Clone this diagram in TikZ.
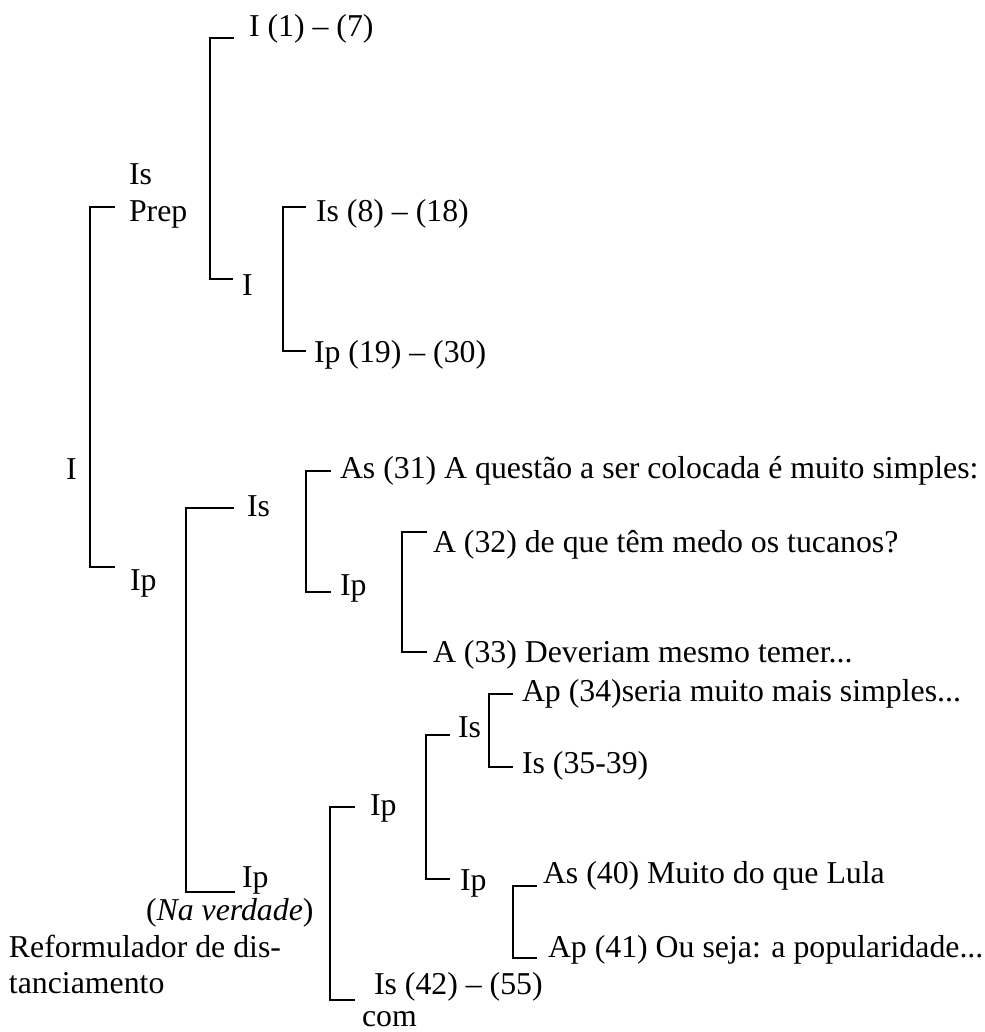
\documentclass[tikz,border=0pt]{standalone}
\usepackage{fontspec}
\setmainfont{Liberation Serif}
\begin{document}
\begin{tikzpicture}[x=1pt,y=-1pt,
  lbl/.style={anchor=base west,inner sep=0pt,outer sep=0pt,font=\fontsize{31.8}{38}\selectfont},
  br/.style={line width=1.9pt,line join=miter,line cap=butt}]
\useasboundingbox (0,0) rectangle (984,1032);
% labels
\node[lbl] (t17)  at (249,37)  {I (1) – (7)};
\node[lbl] (is1)  at (129,185) {Is};
\node[lbl] (prep) at (129,222) {Prep};
\node[lbl] (i2)   at (242,295) {I};
\node[lbl] (is818) at (316,222) {Is (8) – (18)};
\node[lbl] (ip1930) at (314,362) {Ip (19) – (30)};
\node[lbl] (root) at (66,479)  {I};
\node[lbl] (ip1)  at (130,590) {Ip};
\node[lbl] (is2)  at (247,516) {Is};
\node[lbl] (as31) at (340,478) {As (31) A questão a ser colocada é muito simples:};
\node[lbl] (ip2)  at (340,595) {Ip};
\node[lbl] (a32)  at (433,552) {A (32) de que têm medo os tucanos?};
\node[lbl] (a33)  at (433,662) {A (33) Deveriam mesmo temer...};
\node[lbl] (ap34) at (522,701) {Ap (34)seria muito mais simples...};
\node[lbl] (is3)  at (458,737) {Is};
\node[lbl] (is3539) at (522,773) {Is (35-39)};
\node[lbl] (ip3)  at (370,815) {Ip};
\node[lbl] (ip4)  at (460,890) {Ip};
\node[lbl] (as40) at (543,883) {As (40) Muito do que Lula};
\node[lbl] (ap41) at (548,957) {Ap (41) Ou seja: a popularidade...};
\node[lbl] (ipnv) at (242,887) {Ip};
\node[lbl] (nav)  at (146,920) {(\textit{Na verdade})};
\node[lbl] (ref1) at (9,957)   {Reformulador de dis-};
\node[lbl] (ref2) at (9,993)   {tanciamento};
\node[lbl] (is4255) at (374,994) {Is (42) – (55)};
\node[lbl] (com)  at (362,1026) {com};
% bracket ends
\coordinate (b1t) at (115,207);  \coordinate (b1b) at (115,567);
\coordinate (b2t) at (234,38);   \coordinate (b2b) at (233,279);
\coordinate (b3t) at (306,207);  \coordinate (b3b) at (306,351);
\coordinate (b4t) at (234,508);  \coordinate (b4b) at (235,892);
\coordinate (b5t) at (331,471);  \coordinate (b5b) at (331,592);
\coordinate (b6t) at (427,532);  \coordinate (b6b) at (427,652);
\coordinate (b7t) at (355,807);  \coordinate (b7b) at (355,1000);
\coordinate (b8t) at (450,735);  \coordinate (b8b) at (450,879);
\coordinate (b9t) at (513,694);  \coordinate (b9b) at (513,767);
\coordinate (b10t) at (537,886); \coordinate (b10b) at (537,958);
% brackets
\draw[br] (b1t) -- ++(-25,0) |- (b1b);
\draw[br] (b2t) -- ++(-24,0) |- (b2b);
\draw[br] (b3t) -- ++(-23,0) |- (b3b);
\draw[br] (b4t) -- ++(-48,0) |- (b4b);
\draw[br] (b5t) -- ++(-25,0) |- (b5b);
\draw[br] (b6t) -- ++(-25,0) |- (b6b);
\draw[br] (b7t) -- ++(-25,0) |- (b7b);
\draw[br] (b8t) -- ++(-24,0) |- (b8b);
\draw[br] (b9t) -- ++(-24,0) |- (b9b);
\draw[br] (b10t) -- ++(-24,0) |- (b10b);
\end{tikzpicture}
\end{document}
